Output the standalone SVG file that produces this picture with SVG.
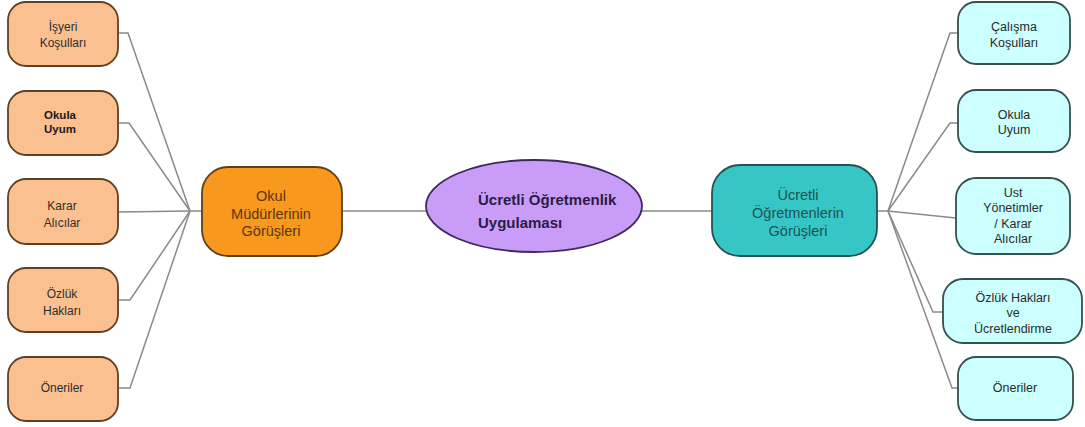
<svg xmlns="http://www.w3.org/2000/svg" width="1085" height="427" viewBox="0 0 1085 427">
  <style>
    .wire { fill: none; stroke: #8a8a8a; stroke-width: 1.5; }
    .leafL { fill: #fac08f; stroke: #5e4024; stroke-width: 1.8; }
    .leafR { fill: #ccffff; stroke: #34504f; stroke-width: 1.8; }
    .lt { font-family: "Liberation Sans", Arial, sans-serif; font-size: 12px; fill: #2e2e2e; text-anchor: middle; }
    .rt { font-family: "Liberation Sans", Arial, sans-serif; font-size: 12.5px; fill: #2a2a2a; text-anchor: middle; }
    .hubL { fill: #f8981d; stroke: #5e4018; stroke-width: 1.8; }
    .hubR { fill: #37c6c6; stroke: #255252; stroke-width: 1.8; }
    .ht { font-family: "Liberation Sans", Arial, sans-serif; font-size: 14.5px; text-anchor: middle; }
  </style>

  <rect width="1085" height="427" fill="#ffffff"/>

  <!-- connectors -->
  <g id="connectors">
    <!-- left fan into hub at (190,211) -->
    <polyline class="wire" points="118,33 128,33 190,211"/>
    <polyline class="wire" points="118,123 129,123 190,211"/>
    <polyline class="wire" points="118,212 190,211"/>
    <polyline class="wire" points="118,300 130,300 190,211"/>
    <polyline class="wire" points="118,388 130,388 190,211"/>
    <line class="wire" x1="190" y1="211" x2="202" y2="211"/>
    <!-- spine -->
    <line class="wire" x1="342" y1="211" x2="426" y2="211"/>
    <line class="wire" x1="642" y1="211" x2="712" y2="211"/>
    <line class="wire" x1="877" y1="211" x2="888" y2="211"/>
    <!-- right fan out of hub at (888,211) -->
    <polyline class="wire" points="888,211 950,33 958,33"/>
    <polyline class="wire" points="888,211 950,123 958,123"/>
    <polyline class="wire" points="888,211 956,218"/>
    <polyline class="wire" points="888,211 933,312 943,312"/>
    <polyline class="wire" points="888,211 952,388 958,388"/>
  </g>

  <!-- left branch leaves -->
  <g id="isyeri-kosullari">
    <rect class="leafL" x="8" y="2" width="110" height="64" rx="18"/>
    <text class="lt" x="63" y="31">İşyeri</text>
    <text class="lt" x="63" y="47">Koşulları</text>
  </g>
  <g id="okula-uyum-l">
    <rect class="leafL" x="8" y="91" width="110" height="64" rx="18"/>
    <text class="lt" x="60" y="119" style="font-weight:bold;fill:#1a1a1a;font-size:11.5px">Okula</text>
    <text class="lt" x="60" y="133" style="font-weight:bold;fill:#1a1a1a;font-size:11.5px">Uyum</text>
  </g>
  <g id="karar-alicilar-l">
    <rect class="leafL" x="8" y="179" width="110" height="65" rx="18"/>
    <text class="lt" x="62" y="210">Karar</text>
    <text class="lt" x="62" y="227">Alıcılar</text>
  </g>
  <g id="ozluk-haklari-l">
    <rect class="leafL" x="8" y="268" width="110" height="64" rx="18"/>
    <text class="lt" x="62" y="298">Özlük</text>
    <text class="lt" x="62" y="315">Hakları</text>
  </g>
  <g id="oneriler-l">
    <rect class="leafL" x="8" y="357" width="110" height="64" rx="18"/>
    <text class="lt" x="62" y="392">Öneriler</text>
  </g>

  <!-- left hub -->
  <g id="okul-mudurleri">
    <rect class="hubL" x="202" y="167" width="140" height="89" rx="26"/>
    <text class="ht" x="271" y="201" fill="#5a3610">Okul</text>
    <text class="ht" x="271" y="219" fill="#5a3610">Müdürlerinin</text>
    <text class="ht" x="271" y="236" fill="#5a3610">Görüşleri</text>
  </g>

  <!-- central topic -->
  <g id="ucretli-ogretmenlik">
    <ellipse cx="534" cy="206" rx="108" ry="46" fill="#c99cf7" stroke="#3d2a5a" stroke-width="1.8"/>
    <text x="478" y="205" font-family="'Liberation Sans', Arial, sans-serif" font-size="15" font-weight="bold" fill="#2a1c46">Ücretli Öğretmenlik</text>
    <text x="478" y="228" font-family="'Liberation Sans', Arial, sans-serif" font-size="15" font-weight="bold" fill="#2a1c46">Uygulaması</text>
  </g>

  <!-- right hub -->
  <g id="ogretmen-gorusleri">
    <rect class="hubR" x="712" y="165" width="165" height="91" rx="28"/>
    <text class="ht" x="798" y="200" fill="#1d5252">Ücretli</text>
    <text class="ht" x="798" y="218" fill="#1d5252">Öğretmenlerin</text>
    <text class="ht" x="798" y="236" fill="#1d5252">Görüşleri</text>
  </g>

  <!-- right branch leaves -->
  <g id="calisma-kosullari">
    <rect class="leafR" x="958" y="2" width="112" height="62" rx="18"/>
    <text class="rt" x="1014" y="31">Çalışma</text>
    <text class="rt" x="1014" y="47">Koşulları</text>
  </g>
  <g id="okula-uyum-r">
    <rect class="leafR" x="958" y="90" width="112" height="62" rx="18"/>
    <text class="rt" x="1014" y="119">Okula</text>
    <text class="rt" x="1014" y="134">Uyum</text>
  </g>
  <g id="ust-yonetimler">
    <rect class="leafR" x="956" y="178" width="114" height="76" rx="20"/>
    <text class="rt" x="1013" y="197">Ust</text>
    <text class="rt" x="1013" y="212">Yönetimler</text>
    <text class="rt" x="1013" y="228">/ Karar</text>
    <text class="rt" x="1013" y="243">Alıcılar</text>
  </g>
  <g id="ozluk-haklari-r">
    <rect class="leafR" x="943" y="279" width="139" height="64" rx="20"/>
    <text class="rt" x="1013" y="302">Özlük Hakları</text>
    <text class="rt" x="1013" y="317">ve</text>
    <text class="rt" x="1013" y="333">Ücretlendirme</text>
  </g>
  <g id="oneriler-r">
    <rect class="leafR" x="958" y="357" width="115" height="63" rx="18"/>
    <text class="rt" x="1015" y="392">Öneriler</text>
  </g>
</svg>
